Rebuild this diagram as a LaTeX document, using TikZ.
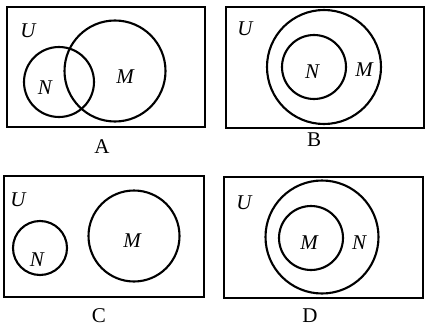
\documentclass[tikz,border=0pt]{standalone}
\usepackage{fontspec}
\setmainfont{Liberation Serif}
\usetikzlibrary{positioning}

\begin{document}
\begin{tikzpicture}[
  x=1pt, y=-1pt,
  font=\fontsize{21}{24}\selectfont,
  univ/.style={draw, line width=1.1pt},
  setc/.style={draw, line width=2.1pt},
  lbl/.style={inner sep=0pt, font=\fontsize{21}{24}\selectfont\itshape},
  caption/.style={inner sep=0pt}
]
\useasboundingbox (0,0) rectangle (425,326);

% A
\draw[univ] (7,7) rectangle (205,127);
\draw[setc] (59,82) circle (35);
\draw[setc] (115,71) circle (50.5);
\node[lbl] (uA) at (28,31) {U};
\node[lbl] (nA) at (45,88) {N};
\node[lbl] (mA) at (125,77) {M};
\node[caption] (capA) at (102,147) {A};

% B
\draw[univ] (226,7) rectangle (424,128);
\draw[setc] (324,67) circle (57);
\draw[setc] (314,67) circle (32);
\node[lbl] (uB) at (245,29) {U};
\node[lbl] (nB) at (312,72) {N};
\node[lbl] (mB) at (364,70) {M};
\node[caption] (capB) at (314,140) {B};

% C
\draw[univ] (4,176) rectangle (204,297);
\draw[setc] (40,248) circle (27);
\draw[setc] (134,236) circle (45.5);
\node[lbl] (uC) at (18,200) {U};
\node[lbl] (nC) at (37,260) {N};
\node[lbl] (mC) at (132,241) {M};
\node[caption] (capC) at (99,316) {C};

% D
\draw[univ] (224,177) rectangle (423,298);
\draw[setc] (322,237) circle (56.5);
\draw[setc] (311,238) circle (32);
\node[lbl] (uD) at (244,203) {U};
\node[lbl] (mD) at (309,243) {M};
\node[lbl] (nD) at (359,243) {N};
\node[caption] (capD) at (310,316) {D};
\end{tikzpicture}
\end{document}
